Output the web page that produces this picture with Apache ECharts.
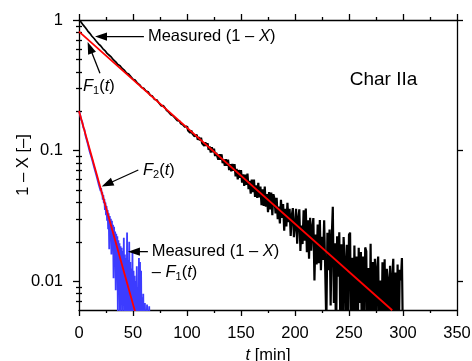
<!DOCTYPE html>
<html><head><meta charset="utf-8">
<style>html,body{margin:0;padding:0;background:#fff}#c{width:472px;height:361px}</style>
<script src="https://cdn.jsdelivr.net/npm/echarts@6/dist/echarts.min.js"></script>
</head><body><div id="c"></div>
<script>
// ---- data ----
const blackTime = [
0,2,4,6,8,10,12,14,16,18,
20,22,24,26,28,30,32,34,36,38,
40,42,44,46,48,50,52,54,56,58,
60,62,64,66,68,70,72,74,76,78,
80,81,82,83,84,85,86,87,88,89,
90,91,92,93,94,95,96,97,98,99,
100,101,102,103,104,105,106,107,108,109,
110,111,112,113,114,115,116,117,118,119,
120,121,122,123,124,125,126,127,128,129,
130,131,132,133,134,135,136,137,138,139,
140,141,142,143,144,145,146,147,148,149,
150,151,152,153,154,155,156,157,158,159,
160,161,162,163,164,165,166,167,168,169,
170,171,172,173,174,175,176,177,178,179,
180,
181,182,183,184,185,186,187,188,189,190,
191,192,193,194,195,196,197,198,199,200,
201,202,203,204,205,206,207,208,209,210,
211,212,213,214,215,216,217,218,219,220,
221,222,223,224,225,226,227,228,229,230,
231,232,233,234,235,236,237,238,239,240,
241,242,243,244,245,246,247,248,249,250,
251,252,253,254,255,256,257,258,259,260,
261,262,263,264,265,266,267,268,269,270,
271,272,273,274,275,276,277,278,279,280,
281,282,283,284,285,286,287,288,289,290,
291,292,293,294,295,296,297,298,299,300];
const blackValue = [
1.0,0.963,0.913,0.871,0.826,0.790,0.751,0.721,0.688,0.657,
0.635,0.604,0.583,0.555,0.537,0.519,0.494,0.478,0.456,0.446,
0.425,0.413,0.392,0.385,0.368,0.352,0.347,0.329,0.320,0.304,
0.300,0.286,0.282,0.265,0.261,0.246,0.245,0.231,0.220,0.221,
0.2104,0.2029,0.2063,0.1969,0.1986,0.1883,0.1910,0.1848,0.1867,0.1766,
0.1786,0.1696,0.1737,0.1688,0.1610,0.1652,0.1575,0.1618,0.1512,0.1526,
0.1540,0.1425,0.1460,0.1366,0.1422,0.1349,0.1396,0.1283,0.1311,0.1319,
0.1207,0.1266,0.1195,0.1255,0.1135,0.1175,0.1085,0.1156,0.1087,0.1139,
0.1011,0.1073,0.0965,0.1058,0.0971,0.1034,0.0908,0.0962,0.0986,0.0850,
0.0935,0.0850,0.0935,0.0800,0.0856,0.0762,0.0858,0.0764,0.0851,0.0708,
0.0785,0.0692,0.0790,0.0698,0.0786,0.0634,0.0722,0.0601,0.0709,0.0618,
0.0707,0.0567,0.0656,0.0536,0.0655,0.0545,0.0665,0.0506,0.0586,0.0467,
0.0598,0.0479,0.0600,0.0441,0.0542,0.0434,0.0566,0.0437,0.0529,0.0381,
0.0504,0.0376,0.0529,0.0371,0.0464,0.0337,0.0480,0.0353,0.0476,0.0320,
0.0463,
0.0427,0.0330,0.0434,0.0298,0.0372,0.0276,0.0420,0.0304,0.0389,0.0243,
0.0358,0.0262,0.0397,0.0282,0.0357,0.0222,0.0317,0.0362,0.0217,0.0263,
0.0358,0.0193,0.0299,0.0354,0.0170,0.0266,0.0192,0.0348,0.0204,0.0360,
0.0166,0.0292,0.0148,0.0305,0.0171,0.0258,0.0304,0.0101,0.0227,0.0134,
0.0271,0.0137,0.0294,0.0121,0.0218,0.0145,0.0292,0.0119,0.0046,0.0234,
0.0121,0.0248,0.0065,0.0213,0.0370,0.0068,0.0195,0.0033,0.0220,0.0108,
0.0236,0.0043,0.0191,0.003,0.0217,0.0145,0.003,0.0190,0.0038,0.0226,
0.0235,0.003,0.0151,0.003,0.0187,0.0045,0.0154,0.003,0.0180,0.0068,
0.0167,0.003,0.0154,0.003,0.0181,0.0169,0.003,0.0126,0.003,0.0193,
0.003,0.0140,0.003,0.0148,0.0036,0.0125,0.0154,0.003,0.0101,0.003,
0.0139,0.003,0.0147,0.003,0.0124,0.0103,0.003,0.0131,0.003,0.0109,
0.0148,0.003,0.0116,0.003,0.0134,0.003,0.0122,0.0101,0.0150,0.003];
const blueTime = [
0,1,2,3,4,5,6,7,8,9,
10,11,12,13,14,15,16,17,18,19,
20,20.5,21,21.5,22,22.5,23,23.5,24,24.5,
25,25.5,26,26.5,27,27.5,28,28.5,29,29.5,
30,30.5,31,31.5,32,32.5,33,33.5,34,34.5,
35,35.5,36,36.5,37,37.5,38,38.5,39,39.5,
40,40.5,41,41.5,42,42.5,43,43.5,44,44.5,
45,45.5,46,46.5,47,47.5,48,48.5,49,49.5,
50,50.5,51,51.5,52,52.5,53,53.5,54,54.5,
55,55.5,56,56.5,57,57.5,58,58.5,59,59.5,
60,61,62,63,64,65,66];
const blueValue = [
0.200,0.1890,0.1725,0.1655,0.1500,0.1445,0.1305,0.1270,0.1135,0.1105,
0.0975,0.0975,0.0860,0.0855,0.0745,0.0750,0.0650,0.0660,0.0560,0.0580,
0.0490,0.0515,0.0460,0.0480,0.0420,0.0455,0.0395,0.0425,0.0350,0.0400,
0.0320,0.0375,0.0290,0.0350,0.0250,0.0330,0.0175,0.0315,0.0220,0.0300,
0.0160,0.0290,0.0190,0.0270,0.0105,0.0260,0.0140,0.0240,0.0085,0.0230,
0.0120,0.0220,0.0055,0.0205,0.0095,0.0195,0.0045,0.0185,0.0075,0.0180,
0.0040,0.0170,0.0065,0.0215,0.0040,0.0160,0.0055,0.0150,0.0035,0.0235,
0.0045,0.0145,0.0035,0.0200,0.0040,0.0140,0.0030,0.0125,0.0035,0.0165,
0.0030,0.0120,0.0030,0.0110,0.0030,0.0100,0.0030,0.0130,0.0030,0.0090,
0.0030,0.0150,0.0030,0.0140,0.0030,0.0120,0.0030,0.0075,0.0030,0.0080,
0.0030,0.0068,0.0030,0.0066,0.0030,0.0064,0.0030];
const fit1Time = [0, 290];
const fit1Value = [0.815, 0.00597];
const fit2Time = [0, 52];
const fit2Value = [0.201, 0.0058];
const xMin = 0, xMax = 350, xStep = 50;
const yMin = 0.006, yMax = 1;
const yMajorTicks = [0.01, 0.1, 1];
const yMinorTicks = [0.007,0.008,0.009,0.02,0.03,0.04,0.05,0.06,0.07,0.08,0.09,0.2,0.3,0.4,0.5,0.6,0.7,0.8,0.9];
const xName = '{i|t} [min]';
const yName = '1 – X [–]';

// ---- chart ----
const FF = '"Liberation Sans", Arial, sans-serif';
const FS = 16.5;
const zip = (a, b) => a.map((t, i) => [t, b[i]]);
const blackPoints = zip(blackTime, blackValue);
const chart = echarts.init(document.getElementById('c'), null, {renderer: 'canvas'});
const axisLine = {show: true, onZero: false, lineStyle: {color: '#000', width: 1.3}};
const tickStyle = {color: '#000', width: 1.3};
function xAxisDef(pos, labels) {
  return {
    type: 'value', position: pos, min: xMin, max: xMax, interval: xStep,
    axisLine: axisLine,
    axisTick: {show: true, length: 6, lineStyle: tickStyle},
    minorTick: {show: true, splitNumber: 2, length: 3, lineStyle: tickStyle},
    splitLine: {show: false}, minorSplitLine: {show: false},
    axisLabel: {show: labels, color: '#000', fontSize: FS, fontFamily: FF, margin: 15},
    name: labels ? xName : '', nameLocation: 'middle', nameGap: 34,
    nameTextStyle: {color: '#000', fontSize: FS, fontFamily: FF,
      rich: {i: {fontStyle: 'italic', fontSize: FS, fontFamily: FF, color: '#000'}}}
  };
}
function yAxisDef(pos, ticks, len, labels, line, name) {
  return {
    type: 'log', logBase: 10, position: pos, min: yMin, max: yMax,
    axisLine: line ? axisLine : {show: false},
    axisTick: {show: true, length: len, lineStyle: tickStyle, customValues: ticks},
    axisLabel: labels ? {show: true, customValues: ticks, color: '#000', fontSize: FS, fontFamily: FF, margin: 16,
      formatter: v => String(+v.toPrecision(3))} : {show: false},
    splitLine: {show: false},
    name: name || '', nameLocation: 'middle', nameRotate: 90, nameGap: 47, nameMoveOverlap: false,
    nameTextStyle: {color: '#000', fontSize: FS, fontFamily: FF}
  };
}
const option = {
  animation: false,
  backgroundColor: '#fff',
  grid: {left: 79, right: 15, top: 20, bottom: 51, containLabel: false, outerBoundsMode: 'none'},
  xAxis: [xAxisDef('bottom', true), xAxisDef('top', false)],
  yAxis: [
    yAxisDef('left', yMajorTicks, 6, true, true, yName),
    yAxisDef('left', yMinorTicks, 3, false, false),
    yAxisDef('right', yMajorTicks, 6, false, true),
    yAxisDef('right', yMinorTicks, 3, false, false)
  ],
  series: [
    {type: 'line', data: blackPoints.filter(p => p[0] <= 100), symbol: 'none', clip: true,
     lineStyle: {color: '#000', width: 1.7}, z: 2, emphasis: {disabled: true}},
    {type: 'line', data: blackPoints.filter(p => p[0] >= 100), symbol: 'none', clip: true,
     lineStyle: {color: '#000', width: 2.2}, z: 2, emphasis: {disabled: true}},
    {type: 'line', data: zip(blueTime, blueValue), symbol: 'none', clip: true,
     lineStyle: {color: '#3c3cff', width: 1.8}, z: 3, emphasis: {disabled: true}},
    {type: 'line', data: zip(fit1Time, fit1Value), symbol: 'none', clip: true,
     lineStyle: {color: '#ff0000', width: 1.8}, z: 4, emphasis: {disabled: true}},
    {type: 'line', data: zip(fit2Time, fit2Value), symbol: 'none', clip: true,
     lineStyle: {color: '#ff0000', width: 1.8}, z: 4, emphasis: {disabled: true}}
  ]
};
chart.setOption(option);

// ---- annotations (anchored in data coordinates) ----
const px = p => chart.convertToPixel({xAxisIndex: 0, yAxisIndex: 0}, p);
function arrow(tail, tip) {
  const a = px(tail), b = px(tip);
  const dx = b[0] - a[0], dy = b[1] - a[1], L = Math.hypot(dx, dy);
  const ux = dx / L, uy = dy / L, hl = 12, hw = 4.2;
  const base = [b[0] - ux * hl, b[1] - uy * hl];
  return [
    {type: 'line', shape: {x1: a[0], y1: a[1], x2: base[0] + ux * 2, y2: base[1] + uy * 2},
     style: {stroke: '#000', lineWidth: 1.3}, z: 100},
    {type: 'polygon', shape: {points: [b, [base[0] - uy * hw, base[1] + ux * hw], [base[0] + uy * hw, base[1] - ux * hw]]},
     style: {fill: '#000'}, z: 100}
  ];
}
const rich = {
  i: {fontStyle: 'italic', fontSize: FS, fontFamily: FF, fill: '#000', lineHeight: 20},
  n: {fontSize: FS, fontFamily: FF, fill: '#000', lineHeight: 20},
  sub: {fontSize: 11, fontFamily: FF, fill: '#000', verticalAlign: 'bottom', lineHeight: 10}
};
function label(p, text, size) {
  const q = px(p);
  return {type: 'text', x: q[0], y: q[1], z: 100,
    style: {text: text, fontSize: size || FS, fontFamily: FF, fill: '#000', align: 'left',
      verticalAlign: 'middle', lineHeight: 20, rich: rich}};
}
const annotations = [
  ...arrow([60.1, 0.746], [14.8, 0.746]),
  label([63.8, 0.746], '{n|Measured (1 – }{i|X}{n|)}'),
  ...arrow([19.4, 0.3905], [8.0, 0.678]),
  label([3.7, 0.310], '{i|F}{sub|1}{n|(}{i|t}{n|)}'),
  ...arrow([54.9, 0.0709], [21.0, 0.0529]),
  label([59.2, 0.0705], '{i|F}{sub|2}{n|(}{i|t}{n|)}'),
  ...arrow([63.8, 0.0168], [45.3, 0.0168]),
  label([67.3, 0.0168], '{n|Measured (1 – }{i|X}{n|)}'),
  label([67.3, 0.01172], '{n|– }{i|F}{sub|1}{n|(}{i|t}{n|)}'),
  label([250.7, 0.347], 'Char IIa', 19)
];
chart.setOption({graphic: {elements: annotations}});
</script></body></html>
